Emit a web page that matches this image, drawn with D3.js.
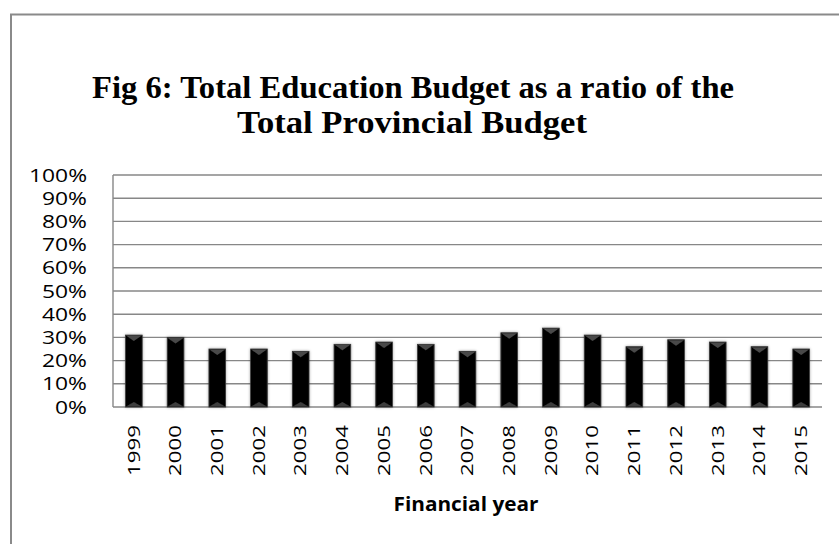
<!DOCTYPE html>
<html>
<head>
<meta charset="utf-8">
<script src="https://cdn.jsdelivr.net/npm/d3@7"></script>
<style>
  html, body { margin: 0; padding: 0; background: #fff; }
  svg { display: block; }
</style>
</head>
<body>
<svg id="chart" width="839" height="544"></svg>
<script>
// Financial years and the education share of the provincial budget
const years = ["1999","2000","2001","2002","2003","2004","2005","2006","2007",
               "2008","2009","2010","2011","2012","2013","2014","2015"];
const ratios = [0.31, 0.30, 0.25, 0.25, 0.24, 0.27, 0.28, 0.27, 0.24,
                0.32, 0.34, 0.31, 0.26, 0.29, 0.28, 0.26, 0.25];
const yTicks = [0, 0.1, 0.2, 0.3, 0.4, 0.5, 0.6, 0.7, 0.8, 0.9, 1.0];
const titleLines = ["Fig 6: Total Education Budget as a ratio of the",
                    "Total Provincial Budget"];
const xTitle = "Financial year";

const svg = d3.select("#chart");
const plot = { left: 113, right: 822, top: 175, bottom: 407 };
const sans = "'Open Sans', Lato, sans-serif";

// chart frame (top and left edges visible)
svg.append("rect")
  .attr("x", 11).attr("y", 14.5)
  .attr("width", 900).attr("height", 600)
  .attr("fill", "#fff")
  .attr("stroke", "#8a8a8a")
  .attr("stroke-width", 2);

// title, two centred lines in a condensed bold serif
const titleG = svg.append("g")
  .attr("font-family", "'Liberation Serif', 'Times New Roman', serif")
  .attr("font-weight", "bold")
  .attr("font-size", 31)
  .attr("fill", "#000");
const titleSpecs = [
  { text: titleLines[0], x: 413, y: 98, len: 642 },
  { text: titleLines[1], x: 412, y: 133, len: 350 }
];
titleSpecs.forEach(s => {
  titleG.append("text")
    .attr("x", s.x).attr("y", s.y)
    .attr("text-anchor", "middle")
    .attr("textLength", s.len)
    .attr("lengthAdjust", "spacingAndGlyphs")
    .text(s.text);
});

const x = d3.scaleBand()
  .domain(years)
  .range([plot.left, plot.right])
  .paddingInner(0.6)
  .paddingOuter(0.3);

const y = d3.scaleLinear()
  .domain([0, 1])
  .range([plot.bottom, plot.top]);

// horizontal gridlines
svg.append("g")
  .selectAll("line")
  .data(yTicks)
  .join("line")
  .attr("x1", plot.left).attr("x2", plot.right)
  .attr("y1", d => y(d)).attr("y2", d => y(d))
  .attr("stroke", "#878787")
  .attr("stroke-width", 1.4);

// y axis line
svg.append("line")
  .attr("x1", plot.left).attr("x2", plot.left)
  .attr("y1", plot.top).attr("y2", plot.bottom)
  .attr("stroke", "#878787")
  .attr("stroke-width", 1.4);

// y tick labels
const pct = d3.format(".0%");
const yLab = svg.append("g")
  .attr("font-family", sans)
  .attr("font-size", 18.5)
  .attr("fill", "#000")
  .selectAll("text")
  .data(yTicks)
  .join("text")
  .attr("x", 87)
  .attr("y", d => y(d))
  .attr("dy", "0.36em")
  .attr("text-anchor", "end")
  .text(d => pct(d));
// scale all labels by the same factor so that "100%" spans 58px
const refW = yLab.filter(d => d === 1).node().getComputedTextLength();
const kY = 58 / refW;
yLab.each(function () {
  const w = this.getComputedTextLength();
  d3.select(this).attr("textLength", w * kY).attr("lengthAdjust", "spacingAndGlyphs");
});

// soft shadow around the bars
const defs = svg.append("defs");
const f = defs.append("filter").attr("id", "barShadow")
  .attr("x", "-40%").attr("y", "-10%").attr("width", "180%").attr("height", "120%");
f.append("feGaussianBlur").attr("in", "SourceAlpha").attr("stdDeviation", 1.6).attr("result", "b");
f.append("feComponentTransfer").attr("in", "b").attr("result", "s")
  .append("feFuncA").attr("type", "linear").attr("slope", 0.35);
const m = f.append("feMerge");
m.append("feMergeNode").attr("in", "s");
m.append("feMergeNode").attr("in", "SourceGraphic");

// bars
const bars = svg.append("g")
  .selectAll("g")
  .data(years.map((yr, i) => ({ yr, v: ratios[i] })))
  .join("g")
  .attr("filter", "url(#barShadow)");

bars.append("rect")
  .attr("x", d => x(d.yr))
  .attr("y", d => y(d.v))
  .attr("width", x.bandwidth())
  .attr("height", d => y(0) - y(d.v))
  .attr("fill", "#050505")
  .attr("stroke", "#3a3a3a")
  .attr("stroke-width", 0.8);

// bevel: lighter triangle at the top, grey one at the foot
bars.append("path")
  .attr("d", d => {
    const x0 = x(d.yr), bw = x.bandwidth(), t = y(d.v);
    return `M${x0 + 0.5},${t + 0.5}L${x0 + bw - 0.5},${t + 0.5}L${x0 + bw / 2},${t + 6}Z`;
  })
  .attr("fill", "#4a4a4a");
bars.append("path")
  .attr("d", d => {
    const x0 = x(d.yr), bw = x.bandwidth(), b = y(0);
    return `M${x0 + 0.5},${b - 0.5}L${x0 + bw - 0.5},${b - 0.5}L${x0 + bw / 2},${b - 5}Z`;
  })
  .attr("fill", "#3c3c3c");

// year labels, rotated to read bottom-up
svg.append("g")
  .attr("font-family", sans)
  .attr("font-size", 16.5)
  .attr("fill", "#000")
  .selectAll("text")
  .data(years)
  .join("text")
  .attr("transform", d => `translate(${x(d) + x.bandwidth() / 2 + 5.8},425) rotate(-90)`)
  .attr("text-anchor", "end")
  .attr("textLength", 51)
  .attr("lengthAdjust", "spacingAndGlyphs")
  .text(d => d);

// x axis title
svg.append("text")
  .attr("x", 466).attr("y", 511)
  .attr("text-anchor", "middle")
  .attr("font-family", sans)
  .attr("font-weight", "bold")
  .attr("font-size", 19.5)
  .attr("textLength", 145)
  .attr("lengthAdjust", "spacingAndGlyphs")
  .text(xTitle);
</script>
</body>
</html>
